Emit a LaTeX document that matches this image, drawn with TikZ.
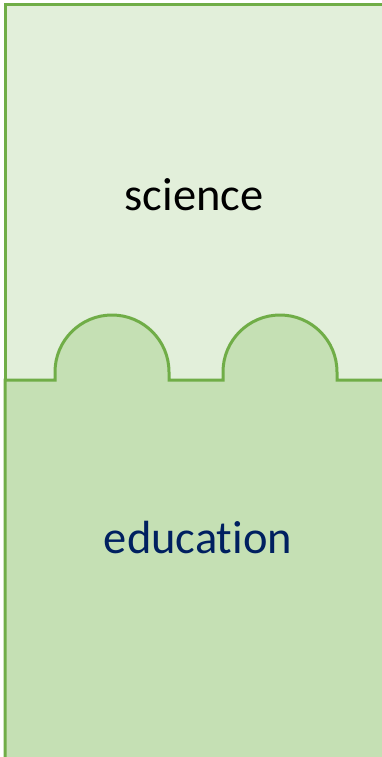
\documentclass[tikz,border=0pt]{standalone}
\usepackage{fontspec}
\setmainfont{Carlito}[Ligatures=NoCommon]
\definecolor{topfill}{HTML}{E2EFDA}
\definecolor{botfill}{HTML}{C5E0B4}
\definecolor{edge}{HTML}{70AD47}
\definecolor{navy}{HTML}{002060}
\begin{document}
\begin{tikzpicture}[x=1pt,y=-1pt,
  piece/.style={draw=edge,line width=3pt,line join=miter},
  label/.style={font=\fontsize{46.5}{56}\selectfont,anchor=base,inner sep=0pt}]
\useasboundingbox (0,0) rectangle (382,757);
\clip (0,0) rectangle (382,757);
\fill[white] (0,0) rectangle (382,757);
% top piece
\draw[piece,fill=topfill] (5,4.5) rectangle (420,380);
% bottom piece with two knobs
\draw[piece,fill=botfill] (5,800) -- (5,380) -- (55,380) -- (55,372)
  arc[start angle=180,end angle=360,radius=57] -- (169,380) -- (223,380) -- (223,372)
  arc[start angle=180,end angle=360,radius=57] -- (337,380) -- (420,380) -- (420,800) -- cycle;
\node[label] (sci) at (194,210) {science};
\node[label,text=navy] (edu) at (198,553) {education};
\end{tikzpicture}
\end{document}
